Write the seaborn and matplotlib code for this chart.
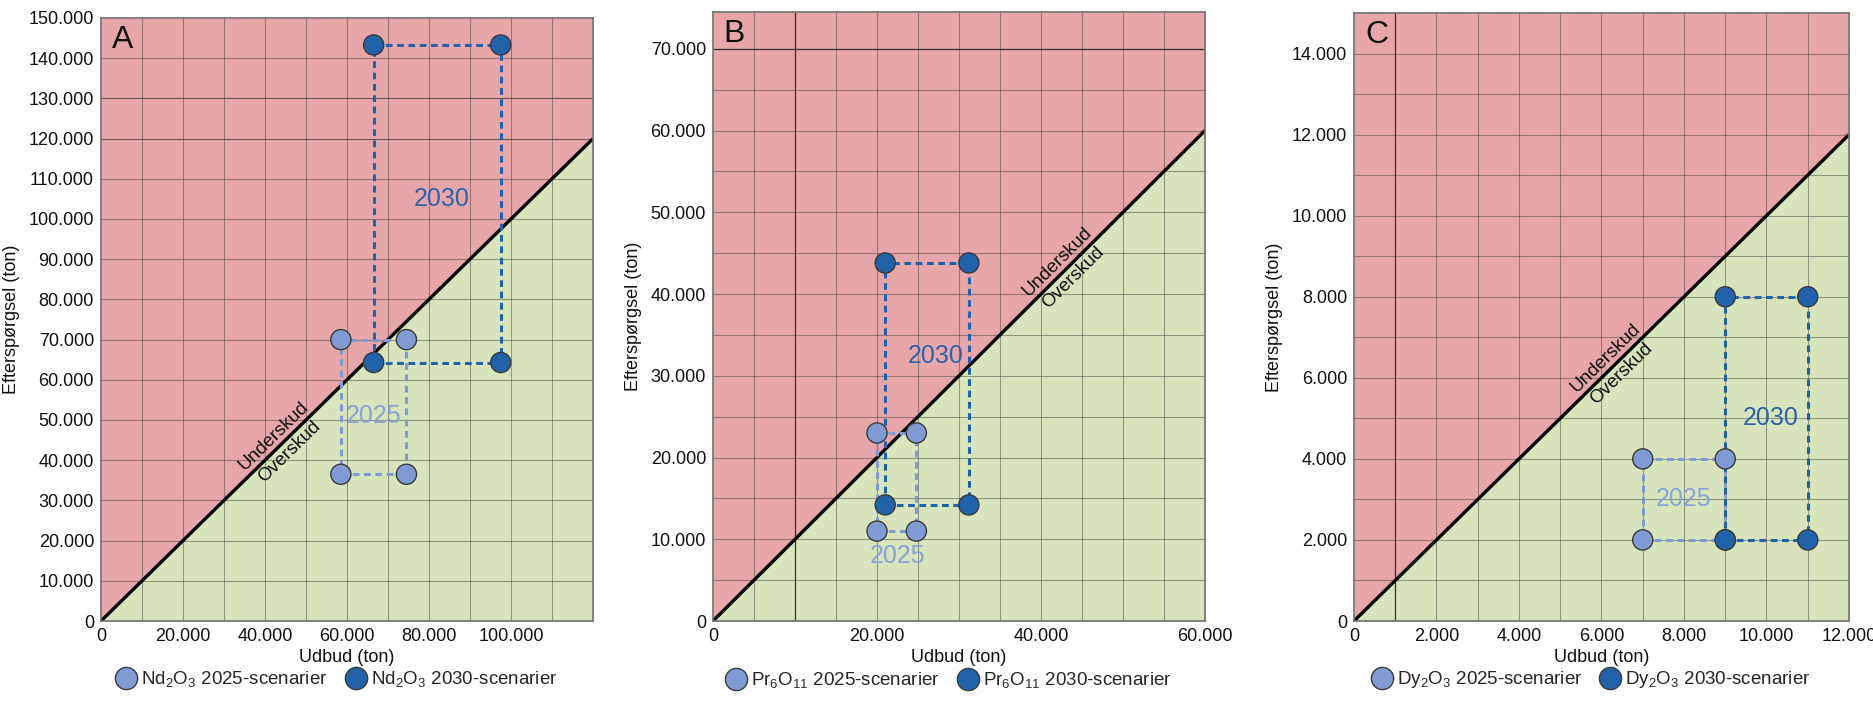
import matplotlib
matplotlib.use("Agg")
import matplotlib.pyplot as plt
from matplotlib.lines import Line2D
import numpy as np
import pandas as pd
import seaborn as sns

# ---------------- data ----------------
panels = ["A", "B", "C"]
oxides = ["Nd$_2$O$_3$", "Pr$_6$O$_{11}$", "Dy$_2$O$_3$"]
supply_2025 = [[58500, 74500], [20000, 24800], [7000, 9000]]
demand_2025 = [[36500, 70000], [11000, 23000], [2000, 4000]]
supply_2030 = [[66500, 97500], [21000, 31200], [9000, 11000]]
demand_2030 = [[64300, 143300], [14200, 43800], [2000, 8000]]
x_max = [120000, 60000, 12000]
y_max = [150000, 74500, 15000]
x_ticks = [[0, 20000, 40000, 60000, 80000, 100000],
           [0, 20000, 40000, 60000],
           [0, 2000, 4000, 6000, 8000, 10000, 12000]]
y_ticks = [list(range(0, 150001, 10000)),
           list(range(0, 70001, 10000)),
           list(range(0, 14001, 2000))]
grid_step = [10000, 5000, 1000]
label_2025_pos = [(66500, 51000), (22500, 8000), (8000, 3000)]
label_2030_pos = [(83000, 105000), (27200, 32400), (10100, 5000)]
diag_label_pos = [44000, 43000, 6300]
dark_vlines = [[], [10000], [1000]]
dark_hlines = [[120000, 130000], [70000], []]
semi_dark_hlines = [120000, 130000]

# ---------------- style ----------------
sns.set_theme(style="white")
plt.rcParams["font.family"] = ["Liberation Sans", "DejaVu Sans"]
plt.rcParams["mathtext.default"] = "regular"

RED = "#E7A6AA"
GREEN = "#D8E4BC"
C25 = "#809BD4"
C30 = "#2163AB"
T25 = "#8AA3D7"
T30 = "#2E63A8"

FW, FH = 1874, 723
fig = plt.figure(figsize=(FW / 100, FH / 100), dpi=100)
rects_px = [(101, 102, 492, 603), (713, 102, 492, 609), (1354, 102, 495, 608)]

def fmt(v):
    return f"{v:,.0f}".replace(",", ".")

for i in range(3):
    l, b, w, h = rects_px[i]
    ax = fig.add_axes([l / FW, b / FH, w / FW, h / FH])
    xm, ym = x_max[i], y_max[i]
    xs = np.array([0, xm])
    ax.fill_between(xs, xs, ym, color=RED, lw=0, zorder=0)
    ax.fill_between(xs, 0, xs, color=GREEN, lw=0, zorder=0)

    for g in np.arange(grid_step[i], xm, grid_step[i]):
        dark = g in dark_vlines[i]
        ax.axvline(g, color="#202020" if dark else "#3a3a3a",
                   alpha=0.9 if dark else 0.45, lw=0.9 if dark else 0.8, zorder=1)
    for g in np.arange(grid_step[i], ym, grid_step[i]):
        dark = g in dark_hlines[i]
        if dark and i == 0:
            ax.axhline(g, color="#2a2a2a", alpha=0.65, lw=0.8, zorder=1)
        elif dark:
            ax.axhline(g, color="#202020", alpha=0.9, lw=0.9, zorder=1)
        else:
            ax.axhline(g, color="#3a3a3a", alpha=0.45, lw=0.8, zorder=1)

    ax.plot(xs, xs, color="black", lw=2.4, zorder=2, solid_capstyle="butt")

    # scenario rectangles
    for sx, dy, col, z in [(supply_2025[i], demand_2025[i], C25, 3),
                           (supply_2030[i], demand_2030[i], C30, 4)]:
        rx = [sx[0], sx[1], sx[1], sx[0], sx[0]]
        ry = [dy[0], dy[0], dy[1], dy[1], dy[0]]
        ax.plot(rx, ry, color=col, lw=2.2, ls=(0, (2.2, 1.5)), zorder=z)

    rows = []
    for yr, sx, dy in [("2025", supply_2025[i], demand_2025[i]),
                       ("2030", supply_2030[i], demand_2030[i])]:
        for x in sx:
            for y in dy:
                rows.append({"Udbud": x, "Efterspørgsel": y, "scenarie": yr})
    df = pd.DataFrame(rows)
    sns.scatterplot(data=df, x="Udbud", y="Efterspørgsel", hue="scenarie",
                    palette={"2025": C25, "2030": C30}, s=210,
                    edgecolor="#3a3a3a", linewidth=1.0, legend=False,
                    ax=ax, zorder=6)

    ax.text(*label_2025_pos[i], "2025", color=T25, fontsize=18,
            ha="center", va="center", zorder=7)
    ax.text(*label_2030_pos[i], "2030", color=T30, fontsize=18,
            ha="center", va="center", zorder=7)

    # diagonal labels
    ang = np.degrees(np.arctan2(h, w * ym / xm))
    ang = np.degrees(np.arctan2(h / ym, w / xm))
    nx, ny = -np.sin(np.radians(ang)), np.cos(np.radians(ang))
    p = diag_label_pos[i]
    off = 2.0
    ax.annotate("Underskud", xy=(p, p), xytext=(nx * off, ny * off),
                textcoords="offset points", rotation=ang, rotation_mode="anchor",
                ha="center", va="bottom", fontsize=13.5, color="#111111", zorder=5)
    ax.annotate("Overskud", xy=(p, p), xytext=(-nx * off, -ny * off),
                textcoords="offset points", rotation=ang, rotation_mode="anchor",
                ha="center", va="top", fontsize=13.5, color="#111111", zorder=5)

    ax.text(0.022, 0.988, panels[i], transform=ax.transAxes, fontsize=23,
            ha="left", va="top", color="#111111", zorder=8)

    ax.set_xlim(0, xm)
    ax.set_ylim(0, ym)
    ax.set_xticks(x_ticks[i])
    ax.set_xticklabels([fmt(v) for v in x_ticks[i]])
    ax.set_yticks(y_ticks[i])
    ax.set_yticklabels([fmt(v) for v in y_ticks[i]])
    ax.tick_params(axis="both", length=0, labelsize=13, colors="#111111", pad=5)
    ax.set_xlabel("Udbud (ton)", fontsize=13, labelpad=3, color="#111111")
    ax.set_ylabel("Efterspørgsel (ton)", fontsize=13, labelpad=6, color="#111111")
    for s in ax.spines.values():
        s.set_color("#707070")
        s.set_linewidth(1.2)
        s.set_zorder(9)

    handles = [Line2D([], [], ls="none", marker="o", markersize=16,
                      markerfacecolor=c, markeredgecolor="#3a3a3a", markeredgewidth=1.0)
               for c in (C25, C30)]
    labels = [f"{oxides[i]} 2025-scenarier", f"{oxides[i]} 2030-scenarier"]
    ax.legend(handles, labels, loc="center", bbox_to_anchor=(0.48, -0.097),
              ncol=2, frameon=False, fontsize=13.5, handletextpad=0.3,
              columnspacing=1.0, handlelength=1.0)

fig.savefig("out.png", dpi=100)
